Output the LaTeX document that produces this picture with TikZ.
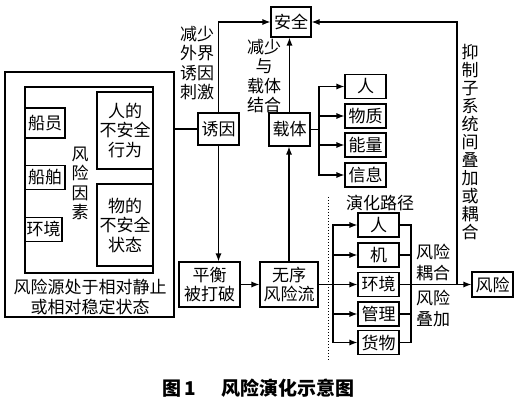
\documentclass[tikz,border=0pt]{standalone}
\usepackage{fontspec}
\setmainfont{Noto Sans CJK SC}
\usepackage{tikz}
\usetikzlibrary{arrows.meta, positioning}
\tikzset{
	boxnode/.style={
			draw=black,
			line width=1.1pt,
			inner sep=0pt,
			align=center,
			font=\fontsize{17pt}{19.5pt}\selectfont
		},
	smallbox/.style={
			boxnode,
			minimum width=41pt,
			minimum height=24pt
		},
	labelnode/.style={
			align=center,
			inner sep=0pt,
			font=\fontsize{17pt}{19.5pt}\selectfont
		},
	connector/.style={
			line width=1.1pt,
			-{Latex[length=8pt,width=6pt]}
		},
	plainline/.style={
			line width=1.1pt,
			line cap=rect
		}
}
\begin{document}
\begin{tikzpicture}[x=1pt, y=-1pt]
\useasboundingbox (0,0) rectangle (524,403);

% risk source
\node[boxnode, minimum width=169pt, minimum height=245pt] (src) at (89.5,194.5) {};
\node[boxnode, minimum width=128pt, minimum height=186pt] (factors) at (89,180) {};
\node[boxnode, minimum width=40pt, minimum height=30pt] (crew) at (45,123) {船员};
\node[boxnode, minimum width=40pt, minimum height=24pt] (ship) at (45,177.5) {船舶};
\node[boxnode, minimum width=37pt, minimum height=24pt] (env) at (43.5,229.5) {环境};
\node[labelnode] (factorlabel) at (80,183.5) {风\\险\\因\\素};
\node[boxnode, minimum width=56pt, minimum height=77pt] (act) at (125,130.5) {人的\\不安全\\行为};
\node[boxnode, minimum width=56pt, minimum height=82pt] (state) at (125,225) {物的\\不安全\\状态};
\node[labelnode] (srclabel) at (90,297) {风险源处于相对静止\\或相对稳定状态};

\node[boxnode, minimum width=41pt, minimum height=32pt] (yin) at (218.5,129) {诱因};
\node[boxnode, minimum width=40pt, minimum height=30pt] (safe) at (291,22) {安全};
\node[boxnode, minimum width=41pt, minimum height=33pt] (carrier) at (289.5,129.5) {载体};
\node[smallbox] (c1) at (365.5,86.5) {人};
\node[smallbox] (c2) at (365.5,116) {物质};
\node[smallbox] (c3) at (365.5,145) {能量};
\node[smallbox] (c4) at (365.5,175) {信息};

\node[boxnode, minimum width=61pt, minimum height=45pt] (broken) at (209.5,284.5) {平衡\\被打破};
\node[boxnode, minimum width=58pt, minimum height=45pt] (flow) at (289,284.5) {无序\\风险流};
\node[labelnode] (pathlabel) at (380,203) {演化路径};
\node[smallbox] (p1) at (378.5,225) {人};
\node[smallbox] (p2) at (378.5,255) {机};
\node[smallbox] (p3) at (378.5,284.5) {环境};
\node[smallbox] (p4) at (378.5,314) {管理};
\node[smallbox] (p5) at (378.5,342.5) {货物};
\node[boxnode, minimum width=41pt, minimum height=25pt] (risk) at (492.5,284.5) {风险};

\node[labelnode] (cutlabel) at (197,63) {减少\\外界\\诱因\\刺激};
\node[labelnode] (bindlabel) at (264,76) {减少\\与\\载体\\结合};
\node[labelnode, font=\fontsize{17pt}{18pt}\selectfont] (suppresslabel) at (470,142.5) {抑\\制\\子\\系\\统\\间\\叠\\加\\或\\耦\\合};
\node[labelnode, font=\fontsize{17pt}{21pt}\selectfont] (couplelabel) at (433,262.5) {风险\\耦合};
\node[labelnode, font=\fontsize{17pt}{21pt}\selectfont] (overlaylabel) at (433,308.5) {风险\\叠加};
\node[labelnode, font=\fontsize{19pt}{22pt}\selectfont\bfseries] (caption) at (258.5,388) {图\,1\hspace{25pt}风险演化示意图};

\draw[plainline] (src.east |- yin.west) -- (yin.west);
\draw[connector] (yin.north) |- (safe.west);
\draw[connector] (yin.south) -- (yin.south |- broken.north);
\draw[connector] (broken.east) -- (flow.west);
\draw[connector] (flow.north) -- (flow.north |- carrier.south);
\draw[connector] (carrier.north) -- (carrier.north |- safe.south);

\coordinate (cbus) at (319,129.5);
\draw[plainline] (carrier.east) -- (cbus);
\draw[plainline] (cbus |- c1.west) -- (cbus |- c4.west);
\foreach \n in {c1,c2,c3,c4}
  \draw[connector] (cbus |- \n.west) -- (\n.west);

\coordinate (pbus) at (333,284.5);
\draw[plainline] (flow.east) -- (pbus);
\draw[plainline] (pbus |- p1.west) -- (pbus |- p5.west);
\foreach \n in {p1,p2,p3,p4,p5}
  \draw[connector] (pbus |- \n.west) -- (\n.west);

\coordinate (rbus) at (411,284.5);
\draw[plainline] (rbus |- p1.east) -- (rbus |- p5.east);
\foreach \n in {p1,p2,p4,p5}
  \draw[plainline] (\n.east) -- (rbus |- \n.east);
\draw[connector] (p3.east) -- (risk.west);

\coordinate (fb) at (457,284.5);
\draw[connector] (fb) |- (safe.east);

\coordinate (dottop) at (328,197);
\coordinate (dotbot) at (328,360);
\draw[line width=1pt, dotted] (dottop) -- (dotbot);
\end{tikzpicture}
\end{document}
